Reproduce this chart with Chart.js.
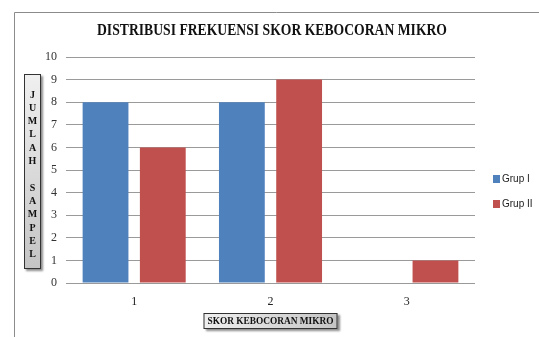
<!DOCTYPE html>
<html>
<head>
<meta charset="utf-8">
<script src="https://cdn.jsdelivr.net/npm/chart.js@4"></script>
<style>
  html, body { margin: 0; padding: 0; background: #fff; }
  #wrap { width: 539px; height: 337px; }
</style>
</head>
<body>
<div id="wrap"><canvas id="chart" width="539" height="337"></canvas></div>
<script>
const categories = ["1", "2", "3"];
const grupI = [8, 8, 0];
const grupII = [6, 9, 1];
const seriesNames = ["Grup I", "Grup II"];
const chartTitle = "DISTRIBUSI FREKUENSI SKOR KEBOCORAN MIKRO";
const xTitle = "SKOR KEBOCORAN MIKRO";
const yTitle = ["J", "U", "M", "L", "A", "H", "", "S", "A", "M", "P", "E", "L"];

const serif = "'Liberation Serif', 'Times New Roman', serif";

// draws text squeezed to a given width
function squeezeText(ctx, text, cx, cy, font, maxW) {
  ctx.save();
  ctx.font = font;
  const w = ctx.measureText(text).width;
  const s = Math.min(1, maxW / w);
  ctx.translate(cx, cy);
  ctx.scale(s, 1);
  ctx.textAlign = "center";
  ctx.textBaseline = "middle";
  ctx.fillText(text, 0, 0);
  ctx.restore();
}

function titleBox(ctx, x, y, w, h) {
  ctx.save();
  ctx.shadowColor = "rgba(0,0,0,0.45)";
  ctx.shadowOffsetX = 2;
  ctx.shadowOffsetY = 2;
  ctx.shadowBlur = 2;
  const g = ctx.createLinearGradient(x, y, x + w, y + h);
  g.addColorStop(0, "#f0f0f0");
  g.addColorStop(1, "#c4c4c4");
  ctx.fillStyle = g;
  ctx.fillRect(x, y, w, h);
  ctx.restore();
  ctx.strokeStyle = "#333";
  ctx.lineWidth = 1;
  ctx.strokeRect(x + 0.5, y + 0.5, w - 1, h - 1);
}

const extras = {
  id: "extras",
  beforeDraw(chart) {
    const ctx = chart.ctx;
    ctx.save();
    ctx.fillStyle = "#fff";
    ctx.fillRect(0, 0, chart.width, chart.height);
    // frame
    ctx.strokeStyle = "#8c8c8c";
    ctx.lineWidth = 1;
    ctx.beginPath();
    ctx.moveTo(chart.width, 12.5);
    ctx.lineTo(14.5, 12.5);
    ctx.lineTo(14.5, chart.height);
    ctx.stroke();
    ctx.restore();
  },
  afterDraw(chart) {
    const ctx = chart.ctx;
    const area = chart.chartArea;
    ctx.save();
    // chart title
    ctx.fillStyle = "#111";
    squeezeText(ctx, chartTitle, 272, 31, "bold 16px " + serif, 350);

    // x axis title
    const cx = (area.left + area.right) / 2;
    titleBox(ctx, cx - 67, 313, 134, 16);
    ctx.fillStyle = "#111";
    squeezeText(ctx, xTitle, cx, 321.5, "bold 11px " + serif, 126);

    // y axis title
    titleBox(ctx, 24, 74, 17, 195);
    ctx.fillStyle = "#111";
    ctx.font = "bold 10px " + serif;
    ctx.textAlign = "center";
    ctx.textBaseline = "middle";
    yTitle.forEach((ch, i) => {
      ctx.fillText(ch, 32.5, 95 + i * 13.3);
    });

    // legend
    ctx.font = "10px 'Liberation Sans Narrow', 'Liberation Sans', Arial, sans-serif";
    ctx.textAlign = "left";
    chart.data.datasets.forEach((ds, i) => {
      const y = 175 + i * 25;
      ctx.fillStyle = ds.backgroundColor;
      ctx.fillRect(493, y, 7, 8);
      ctx.fillStyle = "#222";
      ctx.fillText(ds.label, 502, y + 4.5);
    });
    ctx.restore();
  }
};

new Chart(document.getElementById("chart"), {
  type: "bar",
  data: {
    labels: categories,
    datasets: [
      { label: seriesNames[0], data: grupI, backgroundColor: "#4F81BD" },
      { label: seriesNames[1], data: grupII, backgroundColor: "#C0504D" }
    ]
  },
  options: {
    responsive: false,
    animation: false,
    layout: { padding: { top: 57, right: 64, bottom: 0, left: 0 } },
    datasets: {
      bar: { barPercentage: 0.8, categoryPercentage: 0.84 }
    },
    plugins: {
      legend: { display: false },
      title: { display: false },
      tooltip: { enabled: false }
    },
    scales: {
      x: {
        grid: { display: false },
        border: { display: false },
        ticks: { color: "#222", padding: 4, font: { family: serif, size: 12 } },
        afterFit(scale) { scale.height = 54; }
      },
      y: {
        min: 0,
        max: 10,
        ticks: { stepSize: 1, color: "#333", padding: 9, font: { family: serif, size: 12 } },
        grid: { color: "#9a9a9a", lineWidth: 1, drawTicks: false },
        border: { display: false },
        afterFit(scale) { scale.width = 66; }
      }
    }
  },
  plugins: [extras]
});
</script>
</body>
</html>
